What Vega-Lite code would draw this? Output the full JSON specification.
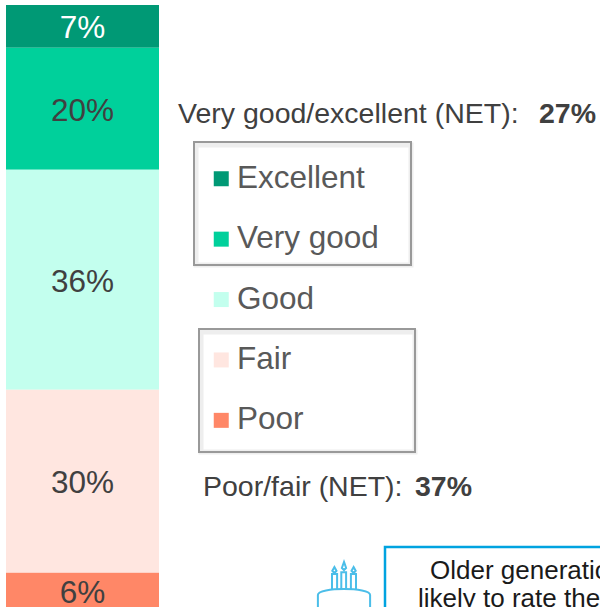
{"$schema":"https://vega.github.io/schema/vega-lite/v6.json","width":600,"height":607,"padding":0,"autosize":{"type":"none"},"background":"#ffffff","config":{"view":{"stroke":null}},
"datasets":{"bars":[{"rating":"Excellent","pct":7,"rank":1,"label":"7%"},{"rating":"Very good","pct":20,"rank":2,"label":"20%"},{"rating":"Good","pct":36,"rank":3,"label":"36%"},{"rating":"Fair","pct":30,"rank":4,"label":"30%"},{"rating":"Poor","pct":6,"rank":5,"label":"6%"}]},
"layer":[
{"data":{"name":"bars"},"mark":{"type":"bar","orient":"vertical"},"encoding":{"x":{"datum":6,"type":"quantitative","scale":{"domain":[0,600],"nice":false,"zero":false,"padding":0},"axis":null},"x2":{"datum":159},"y":{"field":"pct","type":"quantitative","stack":"zero","scale":{"domain":[-0.82,98.6],"reverse":true,"nice":false,"zero":false,"padding":0},"axis":null},"order":{"field":"rank"},"color":{"field":"rating","type":"nominal","scale":{"domain":["Excellent","Very good","Good","Fair","Poor"],"range":["#009975","#00D09B","#C3FFEE","#FFE6E0","#FF8767"]},"legend":{"orient":"none","legendX":205.5,"legendY":163,"title":null,"symbolType":"square","symbolSize":225,"symbolStrokeWidth":0,"symbolOpacity":1,"labelFontSize":31.5,"labelFont":"Liberation Sans","labelColor":"#595959","labelOffset":0,"rowPadding":27.4,"padding":0,"symbolOffset":0,"labelLimit":300}}}},
{"data":{"name":"bars"},"mark":{"type":"text","font":"Liberation Sans","fontSize":31.5,"baseline":"middle","align":"center","dy":3},"encoding":{"x":{"datum":82.5,"type":"quantitative","scale":{"domain":[0,600],"nice":false,"zero":false,"padding":0},"axis":null},"y":{"field":"pct","type":"quantitative","stack":"zero","bandPosition":0.5,"scale":{"domain":[-0.82,98.6],"reverse":true,"nice":false,"zero":false,"padding":0},"axis":null},"order":{"field":"rank"},"text":{"field":"label"},"color":{"condition":{"test":"datum.rating==='Excellent'","value":"#ffffff"},"value":"#404040"}}},
{"data":{"values":[{"box":"top","x0":194,"x1":411,"y0":22.44,"y1":42.59},{"box":"bottom","x0":199,"x1":415,"y0":53.07,"y1":73.22}]},"mark":{"type":"rect","fill":null,"stroke":"#eeeeee","strokeWidth":5,"xOffset":2,"yOffset":3},"encoding":{"x":{"field":"x0","type":"quantitative","scale":{"domain":[0,600],"nice":false,"zero":false,"padding":0},"axis":null},"x2":{"field":"x1"},"y":{"field":"y0","type":"quantitative","scale":{"domain":[-0.82,98.6],"reverse":true,"nice":false,"zero":false,"padding":0},"axis":null},"y2":{"field":"y1"}}},
{"data":{"values":[{"box":"top","x0":194,"x1":411,"y0":22.44,"y1":42.59},{"box":"bottom","x0":199,"x1":415,"y0":53.07,"y1":73.22}]},"mark":{"type":"rect","fill":null,"stroke":"#999999","strokeWidth":2},"encoding":{"x":{"field":"x0","type":"quantitative","scale":{"domain":[0,600],"nice":false,"zero":false,"padding":0},"axis":null},"x2":{"field":"x1"},"y":{"field":"y0","type":"quantitative","scale":{"domain":[-0.82,98.6],"reverse":true,"nice":false,"zero":false,"padding":0},"axis":null},"y2":{"field":"y1"}}},
{"data":{"values":[{"note":"Very good/excellent (NET): ","px":178,"py":17.85},{"note":"Poor/fair (NET): ","px":203,"py":78.95}]},"mark":{"type":"text","font":"Liberation Sans","fontSize":28.5,"align":"left","baseline":"middle","color":"#404040"},"encoding":{"x":{"field":"px","type":"quantitative","scale":{"domain":[0,600],"nice":false,"zero":false,"padding":0},"axis":null},"y":{"field":"py","type":"quantitative","scale":{"domain":[-0.82,98.6],"reverse":true,"nice":false,"zero":false,"padding":0},"axis":null},"text":{"field":"note"}}},
{"data":{"values":[{"note":"27%","px":539,"py":17.85},{"note":"37%","px":415,"py":78.95}]},"mark":{"type":"text","font":"Liberation Sans","fontSize":28.5,"fontWeight":"bold","align":"left","baseline":"middle","color":"#404040"},"encoding":{"x":{"field":"px","type":"quantitative","scale":{"domain":[0,600],"nice":false,"zero":false,"padding":0},"axis":null},"y":{"field":"py","type":"quantitative","scale":{"domain":[-0.82,98.6],"reverse":true,"nice":false,"zero":false,"padding":0},"axis":null},"text":{"field":"note"}}},
{"data":{"values":[{"box":"callout"}]},"mark":{"type":"rect","fill":"#ffffff","stroke":"#00A3E0","strokeWidth":2.5,"clip":true},"encoding":{"x":{"datum":385,"type":"quantitative","scale":{"domain":[0,600],"nice":false,"zero":false,"padding":0},"axis":null},"x2":{"datum":640},"y":{"datum":88.78,"type":"quantitative","scale":{"domain":[-0.82,98.6],"reverse":true,"nice":false,"zero":false,"padding":0},"axis":null},"y2":{"datum":114}}},
{"data":{"values":[{"note":"Older generations are more","px":430,"py":92.7},{"note":"likely to rate their health","px":418,"py":97.3}]},"mark":{"type":"text","font":"Liberation Sans","fontSize":26,"align":"left","baseline":"middle","color":"#1a1a1a"},"encoding":{"x":{"field":"px","type":"quantitative","scale":{"domain":[0,600],"nice":false,"zero":false,"padding":0},"axis":null},"y":{"field":"py","type":"quantitative","scale":{"domain":[-0.82,98.6],"reverse":true,"nice":false,"zero":false,"padding":0},"axis":null},"text":{"field":"note"}}},
{"data":{"values":[{"icon":"cake"}]},"mark":{"type":"point","filled":false,"stroke":"#00A3E0","strokeWidth":2,"size":3600,"shape":"M-.87 .9V-.17C-.87 -.43 .87 -.43 .87 -.17V.9M-.09 -.33V-.93H.07V-.33M-.4 -.33V-.87H-.23V-.33M.23 -.33V-.87H.4V-.33M0 -1.27L.07 -1.07 0 -1 -.07 -1.07ZM-.32 -1.1L-.25 -.97 -.32 -.9 -.39 -.97ZM.32 -1.1L.39 -.97 .32 -.9 .25 -.97Z"},"encoding":{"x":{"datum":344,"type":"quantitative","scale":{"domain":[0,600],"nice":false,"zero":false,"padding":0},"axis":null},"y":{"datum":97.46,"type":"quantitative","scale":{"domain":[-0.82,98.6],"reverse":true,"nice":false,"zero":false,"padding":0},"axis":null}}}
]}
